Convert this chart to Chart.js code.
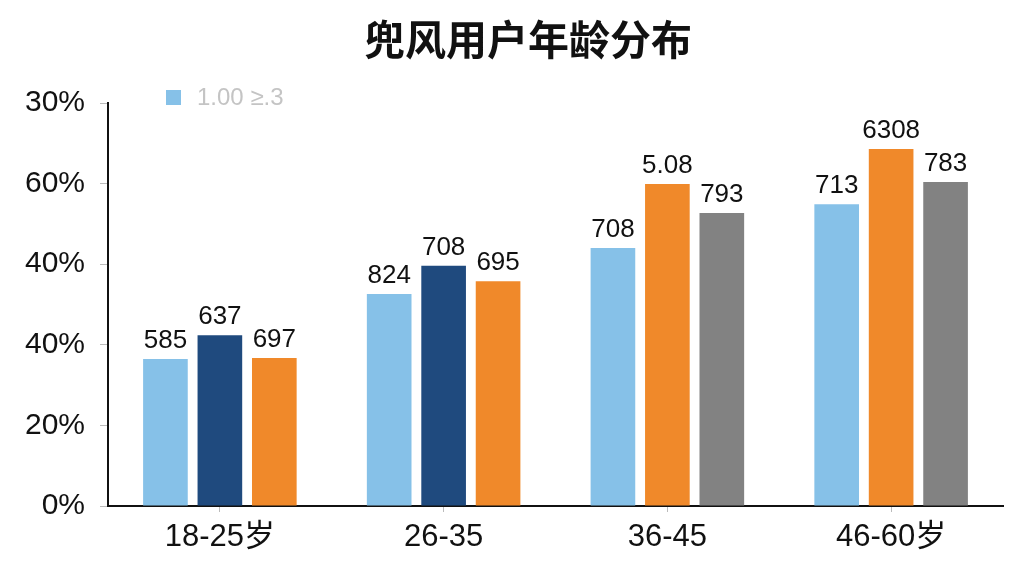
<!DOCTYPE html>
<html>
<head>
<meta charset="utf-8">
<script src="https://cdn.jsdelivr.net/npm/chart.js@4"></script>
<style>
  html, body { margin: 0; padding: 0; background: #fff; }
  #wrap { width: 1024px; height: 576px; }
</style>
</head>
<body>
<div id="wrap"><canvas id="myChart" width="1024" height="576"></canvas></div>
<script>
// data
const ageGroups = ['18-25岁', '26-35', '36-45', '46-60岁'];
const yTickLabels = ['0%', '20%', '40%', '40%', '60%', '30%'];

const bar1Values = [36.5, 52.6, 64.0, 74.9];
const bar2Values = [42.4, 59.6, 79.9, 88.6];
const bar3Values = [36.7, 55.8, 72.7, 80.4];

const bar1Labels = ['585', '824', '708', '713'];
const bar2Labels = ['637', '708', '5.08', '6308'];
const bar3Labels = ['697', '695', '793', '783'];

const chartTitle = '兜风用户年龄分布';
const legendText = '1.00 ≥.3';

const lightBlue = '#86c1e8';
const navy = '#1f4a7e';
const orange = '#f0892a';
const grey = '#828282';

const fontFamily = '"Liberation Sans", "Noto Sans CJK SC", sans-serif';

// value labels above each bar
const valueLabels = {
  id: 'valueLabels',
  afterDatasetsDraw(chart) {
    const ctx = chart.ctx;
    ctx.save();
    ctx.font = '26px ' + fontFamily;
    ctx.fillStyle = '#111';
    ctx.textAlign = 'center';
    ctx.textBaseline = 'bottom';
    chart.data.datasets.forEach(function(ds, i) {
      chart.getDatasetMeta(i).data.forEach(function(bar, j) {
        ctx.fillText(ds.valueText[j], bar.x, bar.y - 5);
      });
    });
    ctx.restore();
  }
};

// title and the faded single-entry legend
const header = {
  id: 'header',
  afterDraw(chart) {
    const ctx = chart.ctx;
    const ds = chart.data.datasets[0];
    ctx.save();
    ctx.font = 'bold 41px ' + fontFamily;
    ctx.fillStyle = '#111';
    ctx.textAlign = 'center';
    ctx.textBaseline = 'middle';
    ctx.fillText(chartTitle, 528, 44);

    ctx.fillStyle = ds.backgroundColor[0];
    ctx.fillRect(166, 90, 15, 15);
    ctx.font = '24px ' + fontFamily;
    ctx.fillStyle = '#c4c4c4';
    ctx.textAlign = 'left';
    ctx.fillText(ds.label, 197, 98);
    ctx.restore();
  }
};

new Chart('myChart', {
  type: 'bar',
  data: {
    labels: ageGroups,
    datasets: [
      {
        label: legendText,
        data: bar1Values,
        valueText: bar1Labels,
        backgroundColor: [lightBlue, lightBlue, lightBlue, lightBlue]
      },
      {
        label: 'b',
        data: bar2Values,
        valueText: bar2Labels,
        backgroundColor: [navy, navy, orange, orange]
      },
      {
        label: 'c',
        data: bar3Values,
        valueText: bar3Labels,
        backgroundColor: [orange, orange, grey, grey]
      }
    ]
  },
  options: {
    responsive: false,
    animation: false,
    categoryPercentage: 0.73,
    barPercentage: 0.82,
    layout: { padding: { left: 0, right: 21, top: 103, bottom: 0 } },
    plugins: {
      legend: { display: false },
      tooltip: { enabled: false },
      title: { display: false }
    },
    scales: {
      x: {
        grid: {
          display: true,
          drawOnChartArea: false,
          offset: false,
          tickLength: 6,
          color: '#bbb'
        },
        border: { color: '#111', width: 2 },
        ticks: {
          color: '#111',
          padding: 7,
          font: { family: fontFamily, size: 31 }
        },
        afterFit(scale) { scale.height = 70; }
      },
      y: {
        min: 0,
        max: 100,
        grid: {
          display: true,
          drawOnChartArea: false,
          tickLength: 8,
          color: '#bbb'
        },
        border: { color: '#111', width: 2 },
        ticks: {
          stepSize: 20,
          color: '#111',
          padding: 15,
          font: { family: fontFamily, size: 30 },
          callback: function(value, index) { return yTickLabels[index]; }
        },
        afterFit(scale) { scale.width = 108; }
      }
    }
  },
  plugins: [valueLabels, header]
});
</script>
</body>
</html>
